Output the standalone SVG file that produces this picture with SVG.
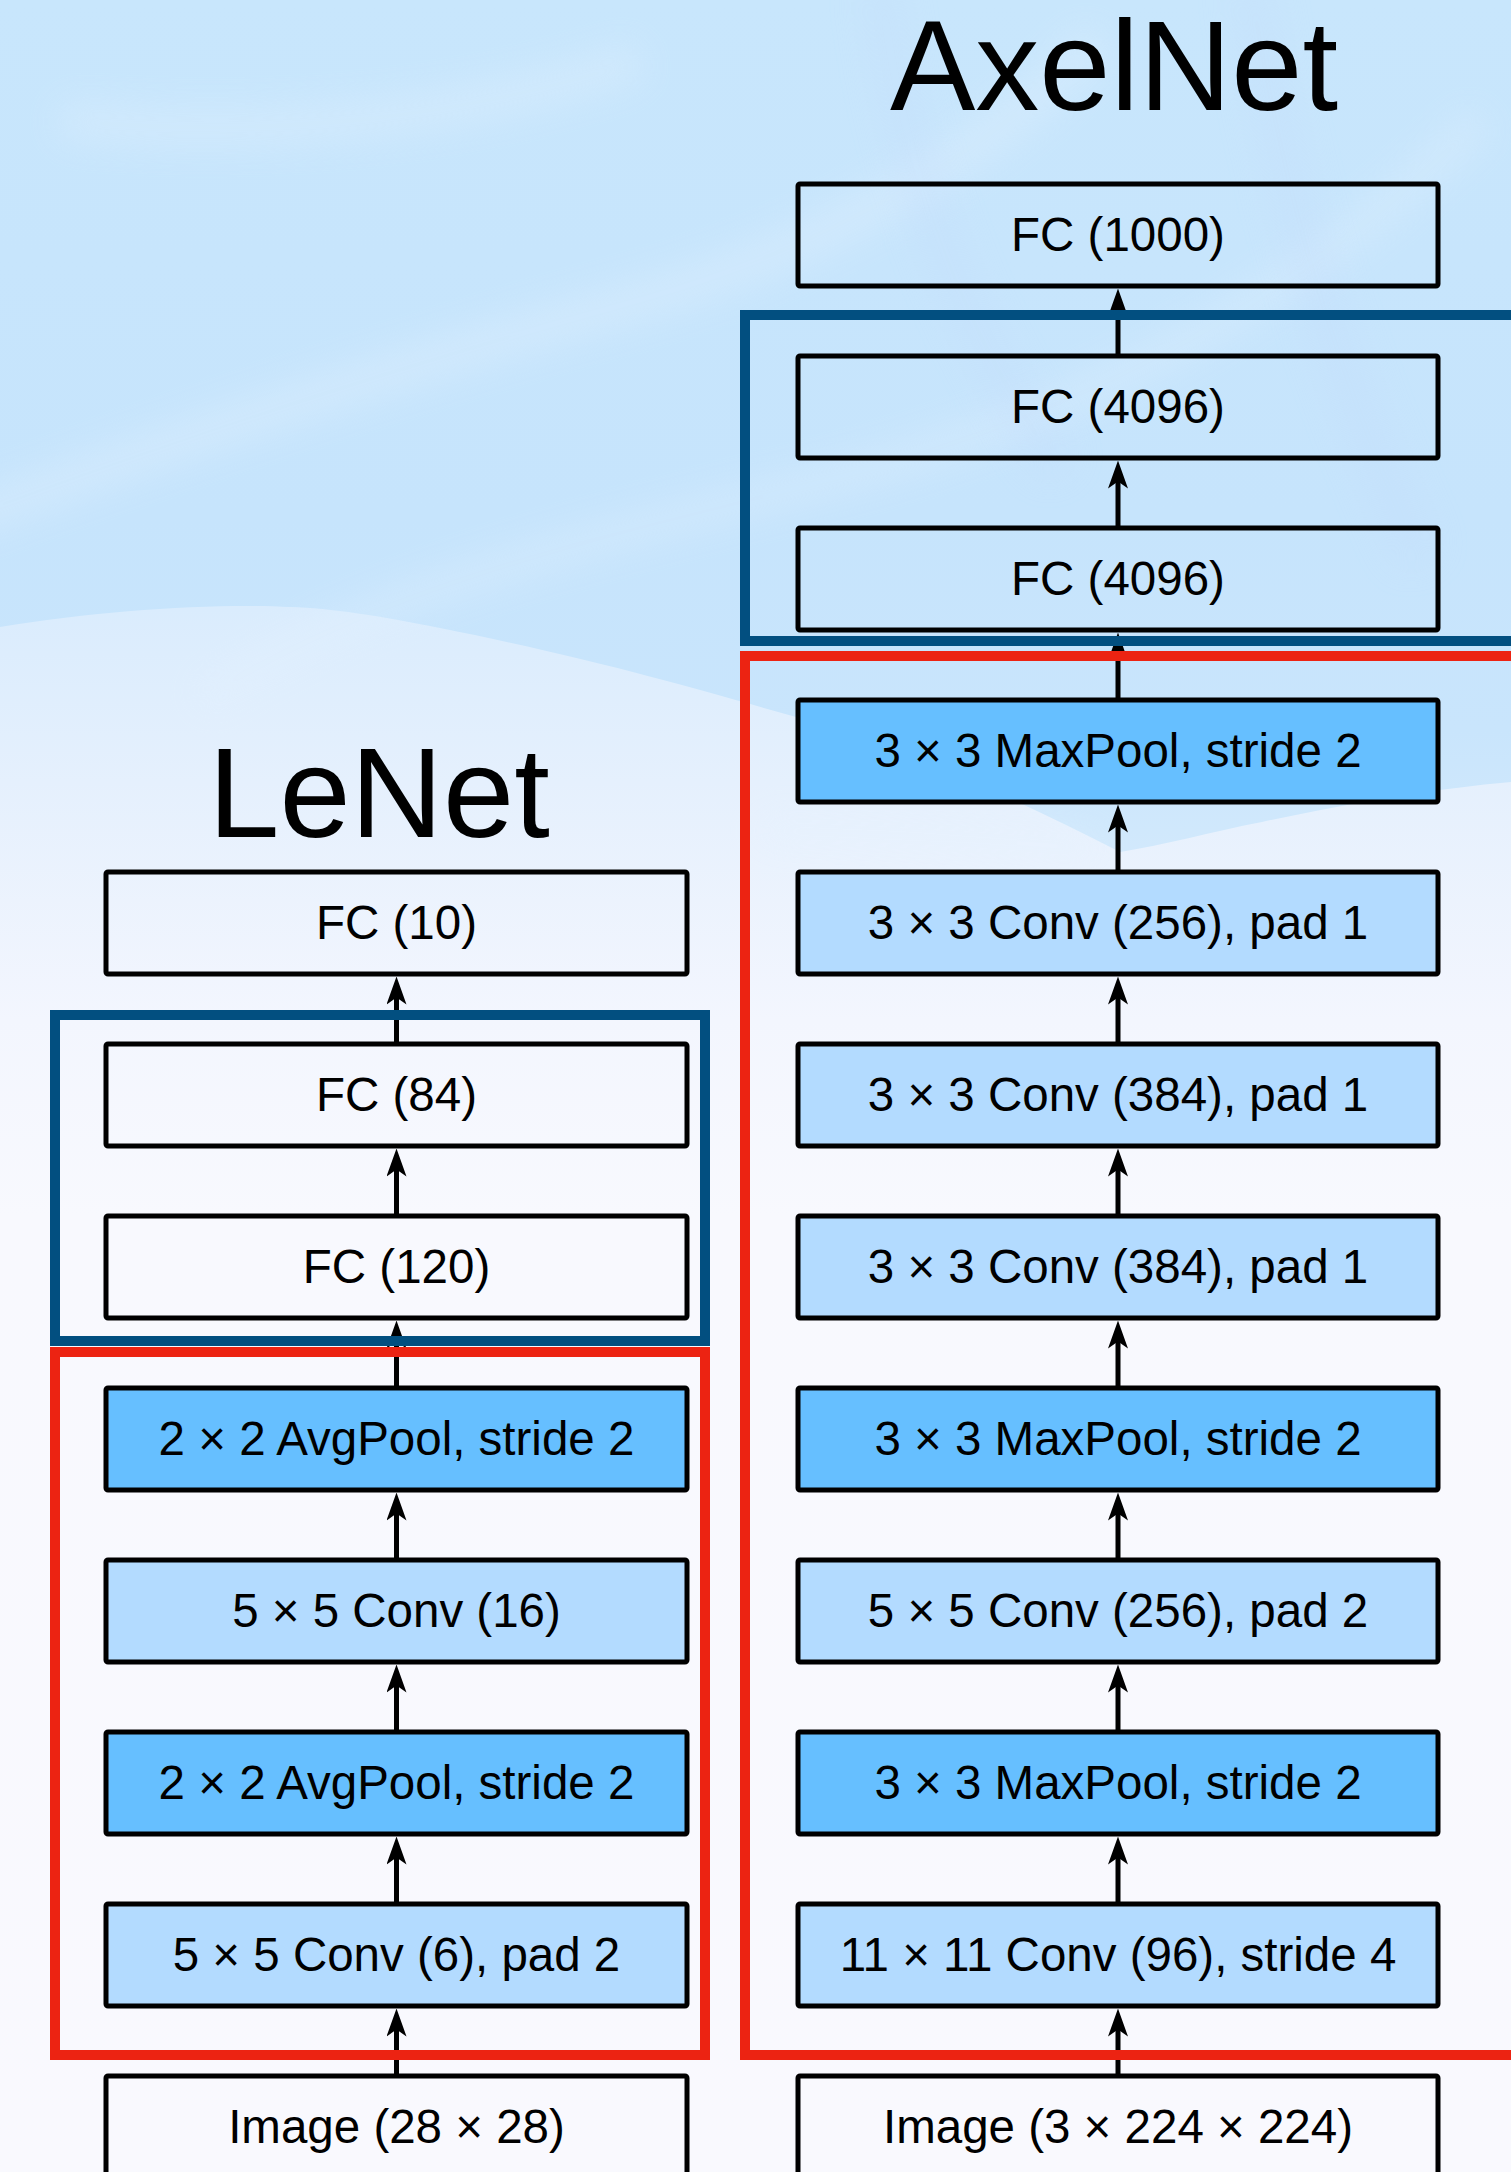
<svg xmlns="http://www.w3.org/2000/svg" width="1511" height="2172" viewBox="0 0 1511 2172">
  <defs>
    <linearGradient id="paleFade" x1="0" y1="0" x2="0" y2="2172" gradientUnits="userSpaceOnUse">
      <stop offset="0" stop-color="#d6eafc"/>
      <stop offset="0.28" stop-color="#daecfd"/>
      <stop offset="0.36" stop-color="#e5f0fd"/>
      <stop offset="0.47" stop-color="#f3f6fe"/>
      <stop offset="0.56" stop-color="#f8f9fe"/>
      <stop offset="1" stop-color="#f9f9fe"/>
    </linearGradient>
    <linearGradient id="skyBlue" x1="0" y1="0" x2="0" y2="860" gradientUnits="userSpaceOnUse">
      <stop offset="0" stop-color="#c8e6fc"/>
      <stop offset="0.6" stop-color="#c6e4fc"/>
      <stop offset="0.85" stop-color="#c9e5fc"/>
      <stop offset="1" stop-color="#d2e9fc"/>
    </linearGradient>
    <filter id="soft" x="-20%" y="-20%" width="140%" height="140%">
      <feGaussianBlur stdDeviation="18"/>
    </filter>
    <marker id="head" viewBox="0 -10 28 20" refX="8" refY="0" markerWidth="28" markerHeight="20" markerUnits="userSpaceOnUse" orient="auto">
      <path d="M28,0 L0,-10 L7,0 L0,10 Z" fill="#000"/>
    </marker>
    <style>
      .box { stroke: #000; stroke-width: 5; stroke-linejoin: round; }
      .fc { fill: none; }
      .pool { fill: #66bfff; }
      .conv { fill: #b3dbff; }
      .lbl { font-family: "Liberation Sans", Arial, Helvetica, sans-serif; font-size: 47.5px; fill: #000; text-anchor: middle; }
      .title { font-family: "Liberation Sans", Arial, Helvetica, sans-serif; font-size: 128px; fill: #000; text-anchor: middle; }
      .edge { fill: none; stroke: #000; stroke-width: 5; marker-end: url(#head); }
      .blk { fill: none; stroke: #024f80; stroke-width: 10; }
      .feat { fill: none; stroke: #ec2312; stroke-width: 10; }
    </style>
  </defs>

  <!-- background: pale base, sky-blue upper wash with a wavy lower edge -->
  <g id="background">
    <rect x="0" y="0" width="1511" height="2172" fill="url(#paleFade)"/>
    <path d="M0,0 H1511 V782 C1440,788 1350,803 1262,822 C1210,832 1165,845 1120,852 C1000,790 880,740 796,717 C700,690 600,660 440,628 C380,616 330,608 291,607 C220,603 100,610 0,627 Z" fill="url(#skyBlue)"/>
    <g filter="url(#soft)" opacity="0.35" fill="none" stroke="#e4f2fe">
      <path d="M-40,520 C200,430 420,360 640,300 C820,250 980,160 1100,40" stroke-width="40"/>
      <path d="M200,700 C420,560 700,520 900,460 C1100,400 1300,300 1480,120" stroke-width="30"/>
      <path d="M60,120 C260,140 460,120 640,60" stroke-width="36"/>
      <path d="M760,830 C900,835 1000,840 1100,850" stroke-width="24"/>
    </g>
    <g filter="url(#soft)" opacity="0.25" fill="none" stroke="#c3d9fb">
      <path d="M1250,-20 C1280,180 1330,360 1420,560" stroke-width="40"/>
      <path d="M880,-20 C900,160 960,330 1060,470" stroke-width="36"/>
    </g>
  </g>

  <!-- titles -->
  <text id="title-lenet" class="title" x="379" y="837">LeNet</text>
  <text id="title-axelnet" class="title" x="1114" y="110">AxelNet</text>

  <!-- connectors: each runs from a box's top edge up to the box above -->
  <g id="connectors">
    <!-- LeNet (x = 396.5) -->
    <path class="edge" d="M396.5,2076 V2028.5"/>
    <path class="edge" d="M396.5,1904 V1856.5"/>
    <path class="edge" d="M396.5,1732 V1684.5"/>
    <path class="edge" d="M396.5,1560 V1512.5"/>
    <path class="edge" d="M396.5,1388 V1340.5"/>
    <path class="edge" d="M396.5,1216 V1168.5"/>
    <path class="edge" d="M396.5,1044 V996.5"/>
    <!-- AxelNet (x = 1118) -->
    <path class="edge" d="M1118,2076 V2028.5"/>
    <path class="edge" d="M1118,1904 V1856.5"/>
    <path class="edge" d="M1118,1732 V1684.5"/>
    <path class="edge" d="M1118,1560 V1512.5"/>
    <path class="edge" d="M1118,1388 V1340.5"/>
    <path class="edge" d="M1118,1216 V1168.5"/>
    <path class="edge" d="M1118,1044 V996.5"/>
    <path class="edge" d="M1118,872 V824.5"/>
    <path class="edge" d="M1118,700 V652.5"/>
    <path class="edge" d="M1118,528 V480.5"/>
    <path class="edge" d="M1118,356 V308.5"/>
  </g>

  <!-- LeNet layers -->
  <g id="lenet-fc10"><rect class="box fc" x="106" y="872" width="581" height="102" rx="2"/><text class="lbl" x="396.5" y="939">FC (10)</text></g>
  <g id="lenet-fc84"><rect class="box fc" x="106" y="1044" width="581" height="102" rx="2"/><text class="lbl" x="396.5" y="1111">FC (84)</text></g>
  <g id="lenet-fc120"><rect class="box fc" x="106" y="1216" width="581" height="102" rx="2"/><text class="lbl" x="396.5" y="1283">FC (120)</text></g>
  <g id="lenet-pool2"><rect class="box pool" x="106" y="1388" width="581" height="102" rx="2"/><text class="lbl" x="396.5" y="1455">2 × 2 AvgPool, stride 2</text></g>
  <g id="lenet-conv2"><rect class="box conv" x="106" y="1560" width="581" height="102" rx="2"/><text class="lbl" x="396.5" y="1627">5 × 5 Conv (16)</text></g>
  <g id="lenet-pool1"><rect class="box pool" x="106" y="1732" width="581" height="102" rx="2"/><text class="lbl" x="396.5" y="1799">2 × 2 AvgPool, stride 2</text></g>
  <g id="lenet-conv1"><rect class="box conv" x="106" y="1904" width="581" height="102" rx="2"/><text class="lbl" x="396.5" y="1971">5 × 5 Conv (6), pad 2</text></g>
  <g id="lenet-input"><rect class="box fc" x="106" y="2076" width="581" height="102" rx="2"/><text class="lbl" x="396.5" y="2143">Image (28 × 28)</text></g>

  <!-- AxelNet layers -->
  <g id="axel-fc3"><rect class="box fc" x="798" y="184" width="640" height="102" rx="2"/><text class="lbl" x="1118" y="251">FC (1000)</text></g>
  <g id="axel-fc2"><rect class="box fc" x="798" y="356" width="640" height="102" rx="2"/><text class="lbl" x="1118" y="423">FC (4096)</text></g>
  <g id="axel-fc1"><rect class="box fc" x="798" y="528" width="640" height="102" rx="2"/><text class="lbl" x="1118" y="595">FC (4096)</text></g>
  <g id="axel-pool3"><rect class="box pool" x="798" y="700" width="640" height="102" rx="2"/><text class="lbl" x="1118" y="767">3 × 3 MaxPool, stride 2</text></g>
  <g id="axel-conv5"><rect class="box conv" x="798" y="872" width="640" height="102" rx="2"/><text class="lbl" x="1118" y="939">3 × 3 Conv (256), pad 1</text></g>
  <g id="axel-conv4"><rect class="box conv" x="798" y="1044" width="640" height="102" rx="2"/><text class="lbl" x="1118" y="1111">3 × 3 Conv (384), pad 1</text></g>
  <g id="axel-conv3"><rect class="box conv" x="798" y="1216" width="640" height="102" rx="2"/><text class="lbl" x="1118" y="1283">3 × 3 Conv (384), pad 1</text></g>
  <g id="axel-pool2"><rect class="box pool" x="798" y="1388" width="640" height="102" rx="2"/><text class="lbl" x="1118" y="1455">3 × 3 MaxPool, stride 2</text></g>
  <g id="axel-conv2"><rect class="box conv" x="798" y="1560" width="640" height="102" rx="2"/><text class="lbl" x="1118" y="1627">5 × 5 Conv (256), pad 2</text></g>
  <g id="axel-pool1"><rect class="box pool" x="798" y="1732" width="640" height="102" rx="2"/><text class="lbl" x="1118" y="1799">3 × 3 MaxPool, stride 2</text></g>
  <g id="axel-conv1"><rect class="box conv" x="798" y="1904" width="640" height="102" rx="2"/><text class="lbl" x="1118" y="1971">11 × 11 Conv (96), stride 4</text></g>
  <g id="axel-input"><rect class="box fc" x="798" y="2076" width="640" height="102" rx="2"/><text class="lbl" x="1118" y="2143">Image (3 × 224 × 224)</text></g>

  <!-- stage outlines: dense block (blue) and convolutional block (red) -->
  <g id="stages">
    <rect id="lenet-dense" class="blk" x="55" y="1015" width="650" height="326"/>
    <rect id="lenet-convs" class="feat" x="55" y="1352" width="650" height="703"/>
    <rect id="axel-dense" class="blk" x="745" y="315" width="820" height="326"/>
    <rect id="axel-convs" class="feat" x="745" y="656" width="820" height="1399"/>
  </g>
</svg>
